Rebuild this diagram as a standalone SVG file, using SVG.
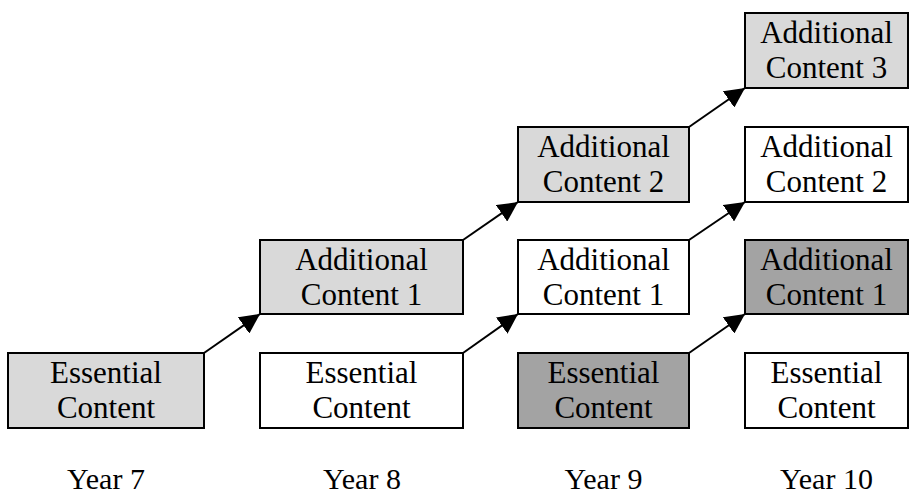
<svg xmlns="http://www.w3.org/2000/svg" width="910" height="497" viewBox="0 0 910 497">
<style>
.box{stroke:#000;stroke-width:2}
.w{fill:#fff}.l{fill:#d9d9d9}.d{fill:#a3a3a3}
text{font-family:"Liberation Serif","Times New Roman",serif;font-size:31px;fill:#000;text-anchor:middle}
.yr{font-size:30px}
.arr{stroke:#000;stroke-width:2;fill:none;marker-end:url(#ah)}
</style>
<defs>
<marker id="ah" markerUnits="userSpaceOnUse" markerWidth="21" markerHeight="20" refX="20" refY="10" orient="auto">
<path d="M0,0 L20,10 L0,20 z" fill="#000"/>
</marker>
</defs>
<rect width="910" height="497" fill="#fff"/>
<g id="connectors">
<line class="arr" x1="204" y1="353" x2="260" y2="314"/>
<line class="arr" x1="463" y1="240" x2="518" y2="202"/>
<line class="arr" x1="463" y1="353" x2="518" y2="314"/>
<line class="arr" x1="689" y1="127" x2="745" y2="88"/>
<line class="arr" x1="689" y1="240" x2="745" y2="202"/>
<line class="arr" x1="689" y1="353" x2="745" y2="314"/>
</g>
<g id="y7-essential"><rect class="box l" x="8" y="353" width="196" height="75"/><text x="106" y="383">Essential<tspan x="106" dy="35">Content</tspan></text></g>
<g id="y8-additional1"><rect class="box l" x="260" y="240" width="203" height="74"/><text x="361.5" y="270">Additional<tspan x="361.5" dy="35">Content 1</tspan></text></g>
<g id="y8-essential"><rect class="box w" x="260" y="353" width="203" height="75"/><text x="361.5" y="383">Essential<tspan x="361.5" dy="35">Content</tspan></text></g>
<g id="y9-additional2"><rect class="box l" x="518" y="127" width="171" height="75"/><text x="603.5" y="157">Additional<tspan x="603.5" dy="35">Content 2</tspan></text></g>
<g id="y9-additional1"><rect class="box w" x="518" y="240" width="171" height="74"/><text x="603.5" y="270">Additional<tspan x="603.5" dy="35">Content 1</tspan></text></g>
<g id="y9-essential"><rect class="box d" x="518" y="353" width="171" height="75"/><text x="603.5" y="383">Essential<tspan x="603.5" dy="35">Content</tspan></text></g>
<g id="y10-additional3"><rect class="box l" x="745" y="13" width="163" height="75"/><text x="826.5" y="43">Additional<tspan x="826.5" dy="35">Content 3</tspan></text></g>
<g id="y10-additional2"><rect class="box w" x="745" y="127" width="163" height="75"/><text x="826.5" y="157">Additional<tspan x="826.5" dy="35">Content 2</tspan></text></g>
<g id="y10-additional1"><rect class="box d" x="745" y="240" width="163" height="74"/><text x="826.5" y="270">Additional<tspan x="826.5" dy="35">Content 1</tspan></text></g>
<g id="y10-essential"><rect class="box w" x="745" y="353" width="163" height="75"/><text x="826.5" y="383">Essential<tspan x="826.5" dy="35">Content</tspan></text></g>
<g id="labels">
<text class="yr" x="106" y="489">Year 7</text>
<text class="yr" x="362" y="489">Year 8</text>
<text class="yr" x="603.5" y="489">Year 9</text>
<text class="yr" x="826.5" y="489">Year 10</text>
</g>
</svg>
